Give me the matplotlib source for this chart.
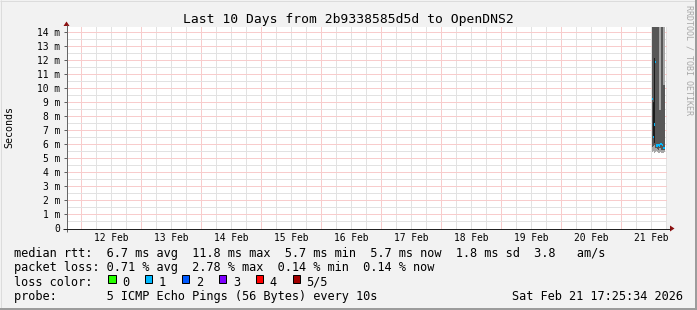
import matplotlib
matplotlib.use("Agg")
import matplotlib.pyplot as plt
import matplotlib.dates as mdates
from matplotlib.ticker import MultipleLocator, FuncFormatter, NullFormatter
from matplotlib.patches import Rectangle, Polygon
from matplotlib.lines import Line2D
import numpy as np
from datetime import datetime

# ---------------- data ----------------
title = "Last 10 Days from 2b9338585d5d to OpenDNS2"
range_start = "2026-02-11 18:00"
range_end = "2026-02-21 18:00"

sample_starts = ["2026-02-21 12:24", "2026-02-21 12:48", "2026-02-21 13:12",
                 "2026-02-21 13:36", "2026-02-21 14:00", "2026-02-21 14:24",
                 "2026-02-21 14:48", "2026-02-21 15:12", "2026-02-21 15:36",
                 "2026-02-21 16:00", "2026-02-21 16:24", "2026-02-21 16:48",
                 "2026-02-21 17:12"]
sample_end = "2026-02-21 17:36"

# smoke (ms): lowest ping, 2nd ping, median, 4th ping, highest ping
ping_min  = [5.45, 5.50, 5.40, 5.45, 5.50, 5.45, 5.40, 5.40, 5.45, 5.40, 5.35, 5.40, 5.45]
ping_low  = [5.80, 5.90, 5.95, 5.70, 5.70, 5.65, 5.60, 5.70, 5.75, 5.60, 5.60, 5.55, 5.55]
median_ms = [9.20, 6.50, 7.40, 11.85, 5.90, 5.90, 5.95, 5.90, 6.00, 6.00, 5.95, 5.75, 5.70]
ping_high = [16.0, 16.0, 16.0, 16.0, 16.0, 16.0, 16.0, 8.40, 8.40, 16.0, 15.0, 10.2, 10.2]
ping_max  = [19.5, 21.0, 24.3, 26.1, 22.8, 18.7, 17.9, 20.4, 16.8, 19.2, 18.1, 17.5, 16.9]
core_low  = [np.nan, 6.6, 6.1, np.nan, np.nan, np.nan, np.nan, np.nan, np.nan, np.nan, np.nan, np.nan, np.nan]
core_high = [np.nan, 9.0, 12.1, np.nan, np.nan, np.nan, np.nan, np.nan, np.nan, np.nan, np.nan, np.nan, np.nan]

loss_labels = ["0", "1", "2", "3", "4", "5/5"]
loss_colors = ["#26ff00", "#00b8ff", "#0059ff", "#7e00ff", "#ff0000", "#a10000"]
median_loss_index = 1

median_rtt_line = "median rtt:  6.7 ms avg  11.8 ms max  5.7 ms min  5.7 ms now  1.8 ms sd  3.8   am/s"
packet_loss_line = "packet loss: 0.71 % avg  2.78 % max  0.14 % min  0.14 % now"
loss_color_label = "loss color:"
probe_line = "probe:       5 ICMP Echo Pings (56 Bytes) every 10s"
timestamp = "Sat Feb 21 17:25:34 2026"
y_label = "Seconds"
watermark = "RRDTOOL / TOBI OETIKER"

# ---------------- figure ----------------
W, H = 697, 310
MONO = "DejaVu Sans Mono"
BG = "#f2f2f2"

fig = plt.figure(figsize=(W / 100, H / 100), dpi=100, facecolor=BG)

def fx(x):
    return x / W

def fy(y):
    return 1 - y / H

ax_left, ax_right, ax_top, ax_bottom = 66.5, 666.5, 27.0, 228.5
ax = fig.add_axes([fx(ax_left), fy(ax_bottom), (ax_right - ax_left) / W, (ax_bottom - ax_top) / H])
ax.set_facecolor("white")

fmt = "%Y-%m-%d %H:%M"
t0 = mdates.date2num(datetime.strptime(range_start, fmt))
t1 = mdates.date2num(datetime.strptime(range_end, fmt))
edges = mdates.date2num([datetime.strptime(t, fmt) for t in sample_starts + [sample_end]])
widths = np.diff(edges)

ax.set_xlim(t0, t1)
ax.set_ylim(0, 14.33)

# smoke
ax.stairs(ping_max, edges, baseline=ping_min, fill=True, color="#a6a6a6", lw=0, zorder=3)
ax.stairs(ping_high, edges, baseline=ping_low, fill=True, color="#575757", lw=0, zorder=3.1)
ax.bar(edges[:-1], np.array(core_high) - np.array(core_low), bottom=core_low, width=widths,
       align="edge", color="#1c1c1c", lw=0, zorder=3.2)
# median as short coloured bars
mthick = 0.15
ax.bar(edges[:-1], mthick, bottom=np.array(median_ms) - mthick / 2, width=widths,
       align="edge", color=loss_colors[median_loss_index], lw=0, zorder=4)

# grid (dotted in the original; drawn as crisp pale lines of equivalent tone)
ax.yaxis.set_major_locator(MultipleLocator(1))
ax.yaxis.set_minor_locator(MultipleLocator(0.5))
ax.xaxis.set_major_locator(mdates.DayLocator())
ax.xaxis.set_minor_locator(mdates.HourLocator(byhour=[6, 12, 18]))
ax.set_axisbelow(True)
ax.grid(which="minor", color="#e2e2e2", ls="-", lw=0.72, antialiased=False)
ax.grid(which="major", color="#f8cccc", ls="-", lw=0.72, antialiased=False)

def ylab(v, pos):
    return "0" if abs(v) < 1e-9 else f"{int(round(v))} m"

ax.yaxis.set_major_formatter(FuncFormatter(ylab))
ax.yaxis.set_minor_formatter(NullFormatter())

def xlab(v, pos):
    d = mdates.num2date(v)
    return d.strftime("%d %b") if d.hour == 12 else ""

ax.xaxis.set_major_formatter(NullFormatter())
ax.xaxis.set_minor_formatter(FuncFormatter(xlab))

ax.tick_params(axis="y", which="major", length=2.2, width=0.72, color="#606060",
               pad=2.6, labelsize=6.94, labelfontfamily=MONO)
ax.tick_params(axis="y", which="minor", length=0)
ax.tick_params(axis="x", which="major", length=0)
ax.tick_params(axis="x", which="minor", length=0, pad=3.2, labelsize=6.94, labelfontfamily=MONO)

for s in ax.spines.values():
    s.set_visible(False)

# axis lines + arrows
def pxline(x0, y0, x1, y1, color, lw=1.0):
    fig.add_artist(Line2D([fx(x0), fx(x1)], [fy(y0), fy(y1)], transform=fig.transFigure,
                          color=color, lw=lw * 0.72, solid_capstyle="butt"))

pxline(ax_left, 231.5, ax_left, 25, "#666666")
pxline(63, ax_bottom, 670, ax_bottom, "#222222")
fig.add_artist(Polygon([(fx(670), fy(225.5)), (fx(674.5), fy(ax_bottom)), (fx(670), fy(231.5))],
                       closed=True, transform=fig.transFigure, color="#8c1010", lw=0))
fig.add_artist(Polygon([(fx(63.5), fy(26)), (fx(ax_left), fy(21.5)), (fx(69.5), fy(26))],
                       closed=True, transform=fig.transFigure, color="#8c1010", lw=0))

# frame shading
pxline(0, 0.5, W, 0.5, "#dcdcdc", 1)
pxline(0.5, 0, 0.5, H, "#dcdcdc", 1)
pxline(0, H - 1, W, H - 1, "#9c9c9c", 2)
pxline(W - 1, 0, W - 1, H, "#9c9c9c", 2)

# texts
fig.text(fx(348.4), fy(23), title, ha="center", va="baseline", fontsize=9.36, family=MONO)
fig.text(fx(9), fy(126.5), y_label, ha="center", va="center", rotation=90, fontsize=7.2, family=MONO)
fig.text(fx(688.5), fy(5), watermark, ha="center", va="top", rotation=270, fontsize=6.0,
         family=MONO, color="#a8a8a8")

LX = 14.35
LFS = 8.55
fig.text(fx(LX), fy(256.7), median_rtt_line, ha="left", va="baseline", fontsize=LFS, family=MONO)
fig.text(fx(LX), fy(271.2), packet_loss_line, ha="left", va="baseline", fontsize=LFS, family=MONO)
fig.text(fx(LX), fy(285.6), loss_color_label, ha="left", va="baseline", fontsize=LFS, family=MONO)
fig.text(fx(LX), fy(300.0), probe_line, ha="left", va="baseline", fontsize=LFS, family=MONO)
fig.text(fx(512.5), fy(300.0), timestamp, ha="left", va="baseline", fontsize=LFS, family=MONO)

box_x0, box_step, box_w, box_h = 108.0, 36.9, 7.5, 7.8
for i, (lab, col) in enumerate(zip(loss_labels, loss_colors)):
    bx = box_x0 + i * box_step
    fig.add_artist(Rectangle((fx(bx), fy(282.8)), box_w / W, box_h / H, transform=fig.transFigure,
                             facecolor=col, edgecolor="black", lw=0.72))
    fig.text(fx(bx + 14.1), fy(285.6), lab, ha="left", va="baseline", fontsize=LFS, family=MONO)

fig.savefig("out.png", dpi=100, facecolor=BG)
